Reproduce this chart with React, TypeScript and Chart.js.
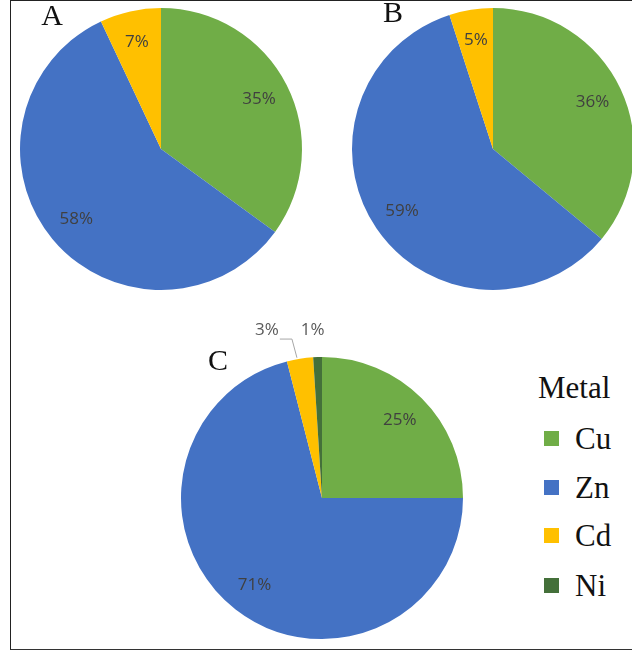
import React, { useEffect, useRef } from "react";
import { Chart, registerables } from "chart.js";

Chart.register(...registerables);

const categories = ["Cu", "Zn", "Cd", "Ni"];
const panelNames = ["A", "B", "C"];
const valuesA = [35, 58, 7, 0];
const valuesB = [36, 59, 5, 0];
const valuesC = [25, 71, 3, 1];
const sliceColors = ["#70AD47", "#4472C4", "#FFC000", "#44703A"];
const legendTitle = "Metal";

const PAD = 40;
const RADIUS = 141;
const SIZE = RADIUS * 2 + PAD * 2;

const pctLabels = {
  id: "pctLabels",
  afterDatasetsDraw(chart: any) {
    const ctx = chart.ctx;
    const meta = chart.getDatasetMeta(0);
    const data = chart.data.datasets[0].data as number[];
    ctx.save();
    ctx.font = '17px "Open Sans"';
    ctx.textAlign = "center";
    ctx.textBaseline = "middle";
    const outside: any[] = [];
    meta.data.forEach((arc: any, i: number) => {
      const v = data[i];
      if (!v) return;
      const { x, y, startAngle, endAngle, outerRadius } = arc.getProps(
        ["x", "y", "startAngle", "endAngle", "outerRadius"],
        true
      );
      const mid = (startAngle + endAngle) / 2;
      const text = v + "%";
      if (v >= 4) {
        const r = outerRadius * 0.78;
        ctx.fillStyle = "#404040";
        ctx.fillText(text, x + Math.cos(mid) * r, y + Math.sin(mid) * r);
      } else {
        const r = outerRadius + 27;
        const w = ctx.measureText(text).width;
        outside.push({
          text,
          w,
          lx: x + Math.cos(mid) * r - 4,
          ly: y + Math.sin(mid) * r,
          ex: x + Math.cos(mid) * outerRadius,
          ey: y + Math.sin(mid) * outerRadius,
          leader: false,
        });
      }
    });
    outside.sort((a, b) => b.lx - a.lx);
    for (let k = 1; k < outside.length; k++) {
      const prev = outside[k - 1];
      const cur = outside[k];
      const prevLeft = prev.lx - prev.w / 2;
      if (cur.lx + cur.w / 2 > prevLeft - 22) {
        cur.lx = prevLeft - 22 - cur.w / 2;
        cur.ly -= 2;
        cur.leader = true;
      }
    }
    outside.forEach((o) => {
      ctx.fillStyle = "#595959";
      ctx.fillText(o.text, o.lx, o.ly);
      if (o.leader) {
        ctx.strokeStyle = "#A6A6A6";
        ctx.lineWidth = 1;
        ctx.beginPath();
        const yl = o.ly + 9;
        ctx.moveTo(o.lx + o.w / 2 + 1, yl);
        ctx.lineTo(o.ex - 8, yl);
        ctx.lineTo(o.ex - 3, o.ey - 1);
        ctx.stroke();
      }
    });
    ctx.restore();
  },
};

function PieCanvas({ values, left, top }: { values: number[]; left: number; top: number }) {
  const ref = useRef<HTMLCanvasElement | null>(null);
  useEffect(() => {
    if (!ref.current) return;
    const chart = new Chart(ref.current, {
      type: "pie",
      data: {
        labels: categories,
        datasets: [
          {
            data: values,
            backgroundColor: sliceColors,
            borderWidth: 0,
            hoverOffset: 0,
          },
        ],
      },
      options: {
        responsive: false,
        animation: false,
        devicePixelRatio: 1,
        layout: { padding: PAD },
        plugins: {
          legend: { display: false },
          tooltip: { enabled: false },
          title: { display: false },
        },
      },
      plugins: [pctLabels],
    });
    return () => chart.destroy();
  }, [values]);
  return (
    <canvas
      ref={ref}
      width={SIZE}
      height={SIZE}
      style={{ position: "absolute", left, top, width: SIZE, height: SIZE }}
    />
  );
}

const serif = '"Liberation Serif", "Times New Roman", serif';

function TextAt({ text, cx, cy, size, align = "center" }: any) {
  const lh = size;
  const style: any = {
    position: "absolute",
    top: cy - lh / 2,
    fontFamily: serif,
    fontSize: size,
    lineHeight: lh + "px",
    color: "#111",
    whiteSpace: "nowrap",
  };
  if (align === "center") {
    style.left = cx - 50;
    style.width = 100;
    style.textAlign = "center";
  } else {
    style.left = cx;
  }
  return <div style={style}>{text}</div>;
}

export default function App() {
  const legendY = [438, 487, 535, 585];
  return (
    <div
      style={{
        position: "fixed",
        left: 0,
        top: 0,
        width: 632,
        height: 651,
        overflow: "hidden",
        background: "#fff",
      }}
    >
      <div
        style={{
          position: "absolute",
          left: 10,
          top: 0,
          width: 700,
          height: 648,
          borderLeft: "1px solid #222",
          borderTop: "1px solid #222",
          borderBottom: "1px solid #333",
        }}
      />
      <PieCanvas values={valuesA} left={161 - RADIUS - PAD} top={149 - RADIUS - PAD} />
      <PieCanvas values={valuesB} left={493 - RADIUS - PAD} top={149 - RADIUS - PAD} />
      <PieCanvas values={valuesC} left={322 - RADIUS - PAD} top={498 - RADIUS - PAD} />
      <TextAt text={panelNames[0]} cx={52} cy={15} size={30} />
      <TextAt text={panelNames[1]} cx={393} cy={12} size={30} />
      <TextAt text={panelNames[2]} cx={218} cy={360} size={30} />
      <TextAt text={legendTitle} cx={538} cy={387} size={31} align="left" />
      {categories.map((c, i) => (
        <React.Fragment key={c}>
          <div
            style={{
              position: "absolute",
              left: 544,
              top: legendY[i] - 7,
              width: 15,
              height: 15,
              background: sliceColors[i],
            }}
          />
          <TextAt text={c} cx={575} cy={legendY[i]} size={31} align="left" />
        </React.Fragment>
      ))}
    </div>
  );
}
